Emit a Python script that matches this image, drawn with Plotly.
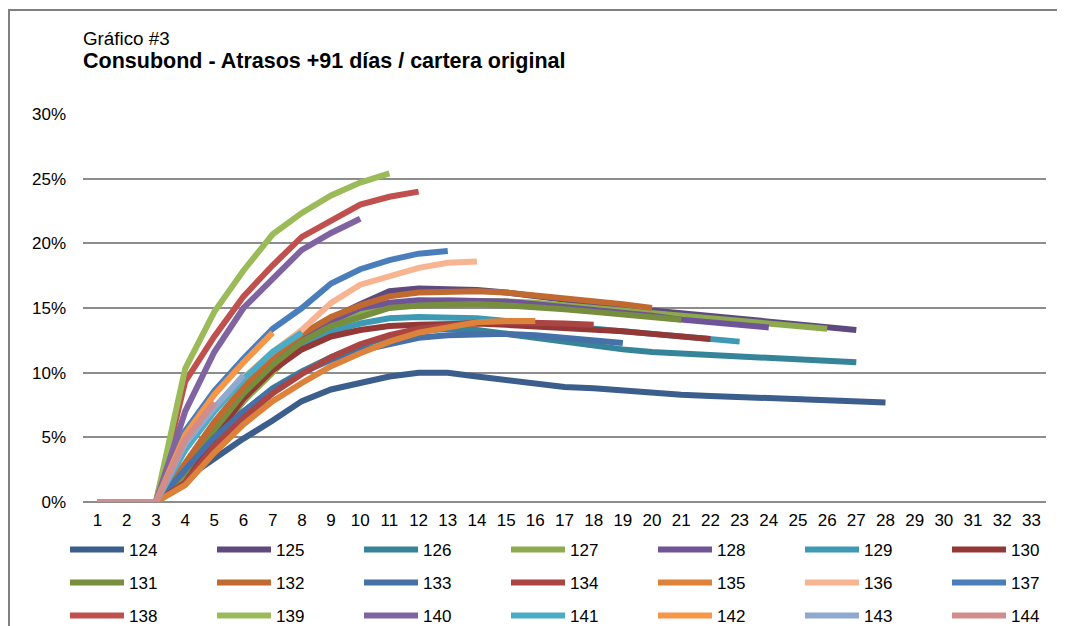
import plotly.graph_objects as go

periods = list(range(1, 34))

s124 = [0, 0, 0, 1.8, 3.4, 4.9, 6.3, 7.8, 8.7, 9.2, 9.7, 10.0, 10.0, 9.7, 9.4, 9.2, 8.9, 8.8, 8.6, 8.4, 8.3, 8.2, 8.1, 8.0, 7.9, 7.8, 7.75, 7.7]
s125 = [0, 0, 0, 2.0, 5.0, 7.8, 10.3, 12.3, 14.2, 15.3, 16.3, 16.5, 16.5, 16.4, 16.2, 15.9, 15.6, 15.3, 15.0, 14.8, 14.6, 14.4, 14.2, 14.0, 13.7, 13.5, 13.3]
s126 = [0, 0, 0, 2.2, 4.8, 7.0, 8.8, 10.1, 11.2, 12.1, 12.8, 13.2, 13.4, 13.3, 13.0, 12.6, 12.3, 12.0, 11.8, 11.6, 11.5, 11.4, 11.2, 11.1, 11.0, 10.9, 10.8]
s127 = [0, 0, 0, 2.0, 5.2, 7.8, 10.0, 12.2, 13.6, 14.6, 15.2, 15.5, 15.6, 15.6, 15.5, 15.4, 15.2, 15.0, 14.8, 14.6, 14.4, 14.2, 14.0, 13.8, 13.6, 13.4]
s128 = [0, 0, 0, 2.5, 5.5, 8.2, 10.6, 12.6, 14.0, 15.0, 15.4, 15.6, 15.6, 15.6, 15.5, 15.3, 15.1, 14.9, 14.7, 14.4, 14.1, 13.9, 13.7, 13.5]
s129 = [0, 0, 0, 2.8, 5.8, 8.3, 10.4, 12.0, 13.2, 13.8, 14.2, 14.3, 14.3, 14.2, 14.0, 13.8, 13.6, 13.4, 13.2, 13.0, 12.8, 12.6, 12.4]
s130 = [0, 0, 0, 1.5, 5.0, 8.0, 10.2, 11.8, 12.8, 13.3, 13.6, 13.7, 13.8, 13.8, 13.7, 13.6, 13.5, 13.4, 13.2, 13.0, 12.8, 12.6]
s131 = [0, 0, 0, 2.3, 5.6, 8.4, 10.6, 12.4, 13.6, 14.3, 15.0, 15.2, 15.3, 15.3, 15.2, 15.1, 14.9, 14.7, 14.5, 14.3, 14.1]
s132 = [0, 0, 0, 3.0, 6.2, 8.9, 11.2, 13.0, 14.3, 15.2, 15.9, 16.2, 16.3, 16.3, 16.2, 16.0, 15.8, 15.5, 15.3, 15.0]
s133 = [0, 0, 0, 2.5, 5.0, 7.0, 8.7, 10.0, 11.0, 11.7, 12.2, 12.7, 12.9, 13.0, 13.0, 12.9, 12.7, 12.5, 12.3]
s134 = [0, 0, 0, 1.5, 4.3, 6.5, 8.4, 9.9, 11.2, 12.2, 12.9, 13.4, 13.7, 13.9, 13.9, 13.9, 13.8, 13.7]
s135 = [0, 0, 0, 1.3, 3.8, 6.0, 7.8, 9.2, 10.5, 11.5, 12.4, 13.1, 13.5, 13.9, 14.0, 14.0]
s136 = [0, 0, 0, 4.6, 7.3, 9.6, 11.6, 13.3, 15.4, 16.8, 17.4, 18.1, 18.5, 18.6]
s137 = [0, 0, 0, 5.5, 8.6, 11.1, 13.4, 15.0, 16.9, 18.0, 18.7, 19.2, 19.4]
s138 = [0, 0, 0, 9.3, 12.8, 15.9, 18.3, 20.5, 21.8, 23.0, 23.6, 24.0]
s139 = [0, 0, 0, 10.3, 14.7, 17.9, 20.7, 22.35, 23.7, 24.7, 25.4]
s140 = [0, 0, 0, 7.0, 11.6, 15.0, 17.2, 19.5, 20.8, 21.9]
s141 = [0, 0, 0, 4.0, 7.0, 9.5, 11.6, 13.1]
s142 = [0, 0, 0, 5.2, 8.3, 10.8, 13.1]
s143 = [0, 0, 0, 4.5, 7.3, 9.8]
s144 = [0, 0, 0, 4.8, 7.7]

series_names = ["124", "125", "126", "127", "128", "129", "130",
                "131", "132", "133", "134", "135", "136", "137",
                "138", "139", "140", "141", "142", "143", "144"]
series_values = [s124, s125, s126, s127, s128, s129, s130,
                 s131, s132, s133, s134, s135, s136, s137,
                 s138, s139, s140, s141, s142, s143, s144]
colors = ["#3B5E8C", "#5E4A7E", "#36849A", "#8DAA4F", "#6F5597", "#3E9AB4", "#933836",
          "#768E3D", "#C06A31", "#4570A8", "#AA4543", "#DC823A", "#F8B390", "#4A7EBB",
          "#C0504D", "#9BBB59", "#8064A2", "#4BACC6", "#F79646", "#8FA9CF", "#D08D8B"]

y_ticks = [0, 5, 10, 15, 20, 25, 30]

FONT = "Arial, 'Liberation Sans', sans-serif"

fig = go.Figure()
legend_ids = ["legend", "legend2", "legend3"]
for i, (name, vals, col) in enumerate(zip(series_names, series_values, colors)):
    fig.add_trace(go.Scatter(
        x=periods[:len(vals)], y=vals, name=name, mode="lines",
        line=dict(color=col, width=6),
        legend=legend_ids[i // 7],
        hoverinfo="skip",
    ))

W, H = 1065, 626
OFF = 8  # page body margin
# plot area in screenshot pixels
SL, SR, ST, SB = 83, 1046, 114, 502
L, R, T, B = SL - OFF, SR - OFF, ST - OFF, SB - OFF
pw, ph = R - L, B - T

def px(xs):
    return (xs - OFF - L) / pw

def py(ys):
    return (B - (ys - OFF)) / ph

leg_common = dict(
    orientation="h", xanchor="left", yanchor="middle",
    font=dict(family=FONT, size=17, color="#000000"),
    entrywidth=78, entrywidthmode="pixels", itemwidth=54,
    bgcolor="rgba(0,0,0,0)", borderwidth=0, traceorder="normal",
    tracegroupgap=0, itemclick=False, itemdoubleclick=False,
)

fig.update_layout(
    width=W, height=H,
    margin=dict(l=L, r=W - R, t=T, b=H - B, autoexpand=False),
    paper_bgcolor="#FFFFFF", plot_bgcolor="#FFFFFF",
    font=dict(family=FONT, size=17, color="#000000"),
    showlegend=True,
    legend=dict(leg_common, x=px(65), y=py(550)),
    legend2=dict(leg_common, x=px(65), y=py(583)),
    legend3=dict(leg_common, x=px(65), y=py(616)),
    xaxis=dict(
        range=[0.5, 33.5], tickmode="array", tickvals=periods,
        ticktext=[str(p) for p in periods],
        showgrid=False, zeroline=False, showline=False,
        ticks="", ticklabelstandoff=6,
        tickfont=dict(family=FONT, size=17, color="#000000"),
    ),
    yaxis=dict(
        range=[0, 30], tickmode="array", tickvals=y_ticks,
        ticktext=[f"{v}%" for v in y_ticks],
        showgrid=True, gridcolor="#8C8C8C", gridwidth=1.5,
        zeroline=True, zerolinecolor="#8C8C8C", zerolinewidth=1.5,
        showline=False, ticks="", ticklabelstandoff=16,
        tickfont=dict(family=FONT, size=17, color="#000000"),
    ),
    shapes=[dict(
        type="rect", xref="paper", yref="paper",
        x0=px(9), x1=px(1080), y0=py(660), y1=py(10),
        line=dict(color="#808080", width=2), fillcolor="rgba(0,0,0,0)",
        layer="below",
    )],
    annotations=[
        dict(text="Gráfico #3", xref="paper", yref="paper",
             x=px(81), y=py(38), xanchor="left", yanchor="middle",
             showarrow=False, font=dict(family=FONT, size=18.8, color="#000000")),
        dict(text="<b>Consubond - Atrasos +91 días / cartera original</b>",
             xref="paper", yref="paper",
             x=px(81), y=py(61), xanchor="left", yanchor="middle",
             showarrow=False, font=dict(family=FONT, size=21.5, color="#000000")),
    ],
)

fig.write_html("out.html")
